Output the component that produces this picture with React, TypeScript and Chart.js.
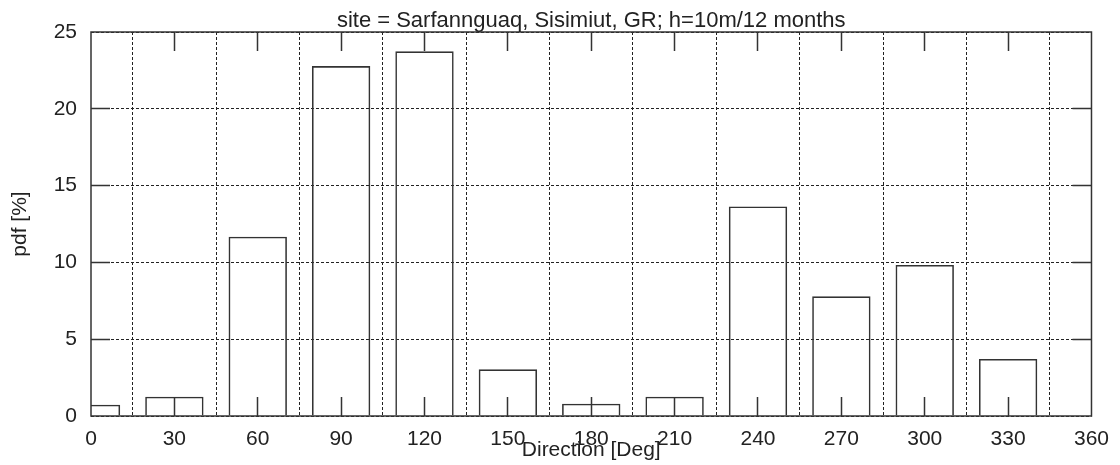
import React, { useEffect, useRef } from "react";
import { Chart, registerables } from "chart.js";

Chart.register(...registerables);

const directions = [0, 30, 60, 90, 120, 150, 180, 210, 240, 270, 300, 330];
const pdfValues = [0.74, 1.26, 11.67, 22.78, 23.74, 3.04, 0.8, 1.26, 13.64, 7.79, 9.83, 3.71];
const titleText = "site = Sarfannguaq, Sisimiut, GR; h=10m/12 months";
const xTitle = "Direction [Deg]";
const yTitle = "pdf [%]";

const FONT = "'Liberation Sans', Arial, sans-serif";
const TEXT = "#222";
const LINE = "#333";

const align = (p: number) => Math.round(p - 0.5) + 0.5;

const framePlugin = {
  id: "frame",
  afterDatasetsDraw(chart: any) {
    const { ctx, chartArea: a, scales } = chart;
    ctx.save();
    ctx.strokeStyle = LINE;
    ctx.lineWidth = 1.5;
    ctx.setLineDash([]);
    const L = 19;
    ctx.beginPath();
    scales.x.ticks.forEach((t: any) => {
      if (t.value <= 0 || t.value >= 360) return;
      const x = align(scales.x.getPixelForValue(t.value));
      ctx.moveTo(x, a.top);
      ctx.lineTo(x, a.top + L);
      ctx.moveTo(x, a.bottom);
      ctx.lineTo(x, a.bottom - L);
    });
    scales.y.ticks.forEach((t: any) => {
      if (t.value <= 0 || t.value >= 25) return;
      const y = align(scales.y.getPixelForValue(t.value));
      ctx.moveTo(a.left, y);
      ctx.lineTo(a.left + L, y);
      ctx.moveTo(a.right, y);
      ctx.lineTo(a.right - L, y);
    });
    ctx.stroke();
    ctx.strokeRect(a.left, a.top, a.right - a.left, a.bottom - a.top);
    // title
    ctx.fillStyle = TEXT;
    ctx.font = `22px ${FONT}`;
    ctx.textAlign = "center";
    ctx.textBaseline = "alphabetic";
    ctx.fillText(titleText, (a.left + a.right) / 2, 27);
    ctx.restore();
  },
};

export default function App() {
  const ref = useRef<HTMLCanvasElement>(null);
  useEffect(() => {
    if (!ref.current) return;
    const font = { family: FONT, size: 21 };
    const chart = new Chart(ref.current, {
      type: "bar",
      data: {
        datasets: [
          {
            data: directions.map((d, i) => ({ x: d, y: pdfValues[i] })),
            backgroundColor: "rgba(0,0,0,0)",
            borderColor: LINE,
            borderWidth: 1.6,
            categoryPercentage: 0.7,
            barPercentage: 1,
          } as any,
        ],
      },
      options: {
        animation: false,
        responsive: false,
        devicePixelRatio: 1,
        layout: { padding: { top: 32, right: 25, left: 0, bottom: 0 } },
        plugins: {
          legend: { display: false },
          tooltip: { enabled: false },
          title: { display: false },
        },
        scales: {
          x: {
            type: "linear",
            min: 0,
            max: 360,
            offset: false,
            ticks: { stepSize: 30, color: TEXT, font, padding: 11, maxRotation: 0, autoSkip: false },
            grid: { color: "#222", lineWidth: 1, drawTicks: false },
            border: { display: false, dash: [3, 2] },
            title: { display: true, text: xTitle, color: TEXT, font, padding: { top: 0, bottom: 2 } },
            afterFit: (s: any) => {
              s.height = 49;
            },
          },
          y: {
            type: "linear",
            min: 0,
            max: 25,
            ticks: { stepSize: 5, color: TEXT, font, padding: 14 },
            grid: { color: "#222", lineWidth: 1, drawTicks: false },
            border: { display: false, dash: [3, 2] },
            title: { display: true, text: yTitle, color: TEXT, font, padding: { top: 8, bottom: 0 } },
            afterFit: (s: any) => {
              s.width = 91;
            },
          },
        },
      } as any,
      plugins: [framePlugin],
    });
    return () => chart.destroy();
  }, []);
  return (
    <div style={{ position: "absolute", left: 0, top: 0, width: 1120, height: 465, background: "#fff" }}>
      <canvas ref={ref} width={1120} height={465} style={{ display: "block" }} />
    </div>
  );
}
